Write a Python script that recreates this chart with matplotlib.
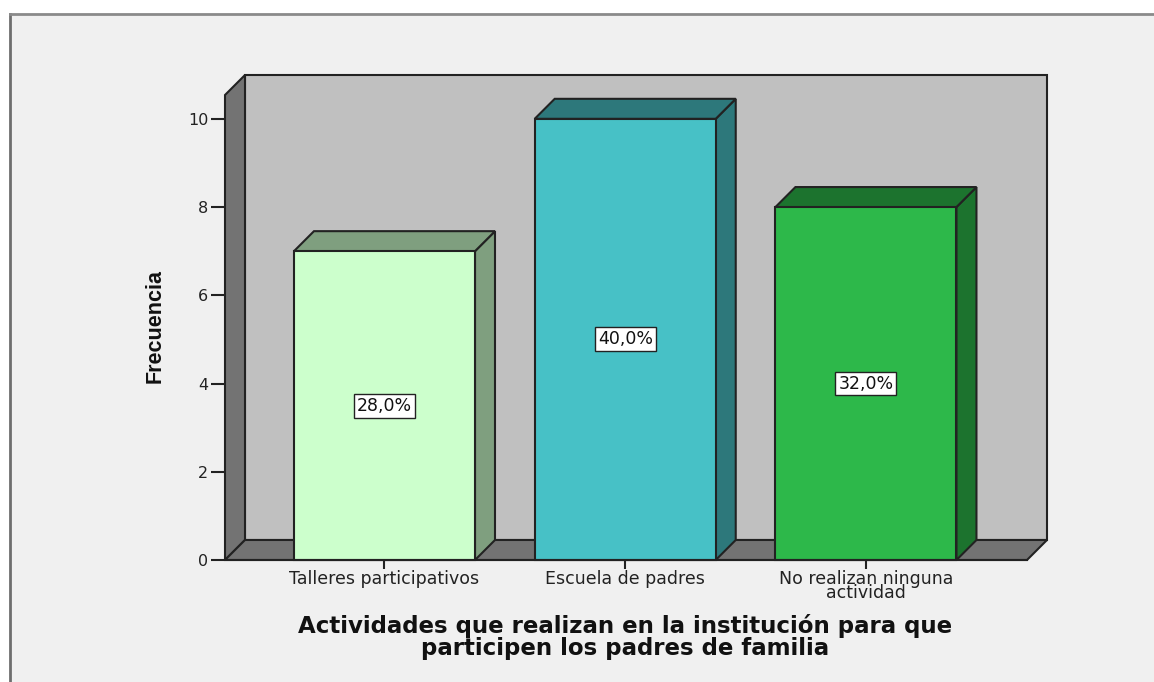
import matplotlib
matplotlib.use("Agg")
import matplotlib.pyplot as plt
from matplotlib.patches import Polygon, Rectangle

# datos
categorias = ["Talleres participativos", "Escuela de padres", "No realizan ninguna\nactividad"]
frecuencias = [7, 10, 8]
porcentajes = ["28,0%", "40,0%", "32,0%"]
colores = ["#ccffcc", "#47c1c6", "#2db84a"]
colores_top = ["#7f9f7f", "#2d787b", "#1c732e"]
ticks_y = [0, 2, 4, 6, 8, 10]

W, H = 1154, 682
linea = "#222222"

fig = plt.figure(figsize=(W / 100, H / 100), dpi=100, facecolor="white")

# panel gris claro de fondo con su borde arriba e izquierda
bg = fig.add_axes([0, 0, 1, 1], zorder=0)
bg.set_xlim(0, W)
bg.set_ylim(H, 0)
bg.axis("off")
bg.add_patch(Rectangle((10, 14), W - 10, H - 14, fc="#f0f0f0", ec="none"))
bg.plot([10, 10], [H, 14], color="#6e6e6e", lw=2)
bg.plot([10, W], [14, 14], color="#8a8a8a", lw=2)

# ejes = plano frontal del grafico
ax = fig.add_axes([225 / W, 1 - 560 / H, 802 / W, 465 / H], zorder=1)
ax.patch.set_alpha(0)
ax.set_xlim(-0.6625, 2.669)
ax.set_ylim(0, 10.54)
for s in ax.spines.values():
    s.set_visible(False)

dx = 20 / 240.75
dy = 20 / 44.1
ancho = 0.752
x0, x1 = ax.get_xlim()
y0, y1 = ax.get_ylim()


def poli(pts, fc, z):
    ax.add_patch(Polygon(pts, closed=True, fc=fc, ec=linea, lw=1.5, zorder=z, clip_on=False, joinstyle="miter"))


# pared del fondo, pared lateral y suelo
poli([(x0 + dx, y0 + dy), (x1 + dx, y0 + dy), (x1 + dx, y1 + dy), (x0 + dx, y1 + dy)], "#c0c0c0", 1)
poli([(x0, y0), (x0 + dx, y0 + dy), (x0 + dx, y1 + dy), (x0, y1)], "#737373", 2)
poli([(x0, y0), (x1, y0), (x1 + dx, y0 + dy), (x0 + dx, y0 + dy)], "#737373", 2)

for i, v in enumerate(frecuencias):
    a = i - ancho / 2
    b = i + ancho / 2
    poli([(b, 0), (b + dx, dy), (b + dx, v + dy), (b, v)], colores_top[i], 3)
    poli([(a, v), (b, v), (b + dx, v + dy), (a + dx, v + dy)], colores_top[i], 3)
    poli([(a, 0), (b, 0), (b, v), (a, v)], colores[i], 4)
    ax.text(i, v / 2, porcentajes[i], ha="center", va="center", fontsize=12.5, family="DejaVu Sans", color="#111111",
            zorder=5, bbox=dict(boxstyle="square,pad=0.17", fc="white", ec=linea, lw=1))

ax.set_yticks(ticks_y)
ax.set_yticklabels([str(t) for t in ticks_y], fontsize=11.5, family="DejaVu Sans", color="#222222")
ax.set_xticks(range(len(categorias)))
ax.set_xticklabels(categorias, fontsize=12.5, family="DejaVu Sans", color="#222222", linespacing=0.65)
ax.tick_params(axis="y", length=10, width=1.5, color=linea, pad=2)
ax.tick_params(axis="x", length=6.5, width=1.5, color=linea, pad=1)
ax.plot([x0, x1], [0, 0], color=linea, lw=1.5, zorder=6, clip_on=False)

fig.text(155 / W, 1 - 326 / H, "Frecuencia", rotation=90, ha="center", va="center", fontsize=15.5,
         fontweight="bold", family="Liberation Sans", color="#111111")
fig.text(625 / W, 1 - 637 / H, "Actividades que realizan en la institución para que\nparticipen los padres de familia",
         ha="center", va="center", fontsize=16.5, fontweight="bold", family="DejaVu Sans", color="#111111", linespacing=0.9)

fig.savefig("out.png", dpi=100)
